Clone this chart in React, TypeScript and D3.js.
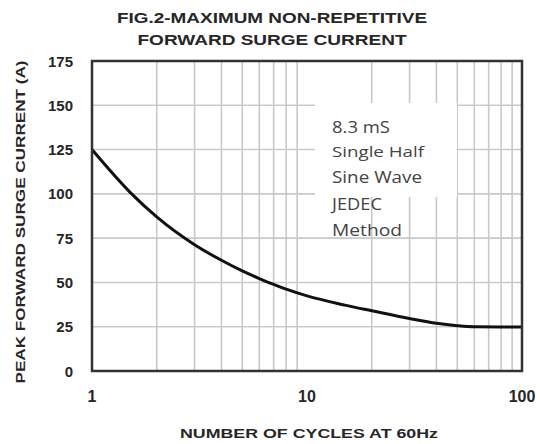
import React from "react";
import * as d3 from "d3";

const titleLines = ["FIG.2-MAXIMUM NON-REPETITIVE", "FORWARD SURGE CURRENT"];
const xTitle = "NUMBER OF CYCLES AT 60Hz";
const yTitle = "PEAK FORWARD SURGE CURRENT (A)";
const xTicks = [1, 10, 100];
const xGrid = [2, 3, 4, 5, 6, 7, 8, 9, 20, 30, 40, 50, 60, 70, 80, 90];
const yTicks = [0, 25, 50, 75, 100, 125, 150, 175];
const cycles = [1, 1.5, 2, 3, 4, 5, 6, 7, 8, 10, 15, 20, 30, 40, 50, 60, 80, 100];
const current = [125, 101, 87, 71.3, 62.5, 56.5, 52.2, 48.9, 46.2, 42.4, 37.2, 34, 29.6, 26.9, 25.6, 25, 24.9, 24.9];
const noteLines = ["8.3 mS", "Single Half", "Sine Wave", "JEDEC", "Method"];
const noteWidths = [58, 92, 90, 50, 70];

export default function App() {
  const W = 540, H = 444;
  const left = 92, right = 522, top = 61, bottom = 371;
  const x = d3.scaleLog().domain([1, 100]).range([left, right]);
  const y = d3.scaleLinear().domain([0, 175]).range([bottom, top]);
  const pts: [number, number][] = cycles.map((c, i) => [c, current[i]]);
  const line = d3
    .line<[number, number]>()
    .x((d) => x(d[0]))
    .y((d) => y(d[1]))
    .curve(d3.curveMonotoneX);
  const txt = "#262626";
  const grid = "#c9c9c9";
  return (
    <svg
      width={W}
      height={H}
      style={{ position: "absolute", left: 0, top: 0, background: "#fff" }}
      fontFamily="'Liberation Sans', Arial, sans-serif"
    >
      <rect x={0} y={0} width={W} height={H} fill="#fff" />
      <text x={272} y={23} textAnchor="middle" fontWeight="bold" fontSize={15} fill={txt} textLength={310} lengthAdjust="spacingAndGlyphs">
        {titleLines[0]}
      </text>
      <text x={272} y={45} textAnchor="middle" fontWeight="bold" fontSize={15} fill={txt} textLength={269} lengthAdjust="spacingAndGlyphs">
        {titleLines[1]}
      </text>
      {xGrid.map((v) => (
        <line key={"vx" + v} x1={x(v)} x2={x(v)} y1={top} y2={bottom} stroke={grid} strokeWidth={1.6} />
      ))}
      {yTicks.slice(1, -1).map((v) => (
        <line key={"hy" + v} x1={left} x2={right} y1={y(v)} y2={y(v)} stroke={grid} strokeWidth={1.6} />
      ))}
      <rect x={315} y={103} width={142} height={94} fill="#fff" />
      {noteLines.map((t, i) => (
        <text
          key={t}
          x={332}
          y={[133, 157, 183, 210, 236][i]}
          fontFamily="'Open Sans', sans-serif"
          fontSize={i === 1 ? 15 : 17}
          fill="#444"
          textLength={noteWidths[i]}
          lengthAdjust="spacingAndGlyphs"
        >
          {t}
        </text>
      ))}
      <path d={line(pts) || ""} fill="none" stroke="#111" strokeWidth={3} strokeLinejoin="round" />
      <rect x={left} y={top} width={right - left} height={bottom - top} fill="none" stroke="#333" strokeWidth={2.5} />
      {yTicks.map((v) => (
        <text key={"yt" + v} x={73} y={y(v) + 5.5} textAnchor="end" fontWeight="bold" fontSize={15} fill={txt}>
          {v}
        </text>
      ))}
      {xTicks.map((v) => (
        <text key={"xt" + v} x={x(v)} y={402} textAnchor="middle" fontWeight="bold" fontSize={16} fill={txt}>
          {v}
        </text>
      ))}
      <text x={309} y={438} textAnchor="middle" fontWeight="bold" fontSize={13} fill={txt} textLength={258} lengthAdjust="spacingAndGlyphs">
        {xTitle}
      </text>
      <text
        transform={`translate(25, 222) rotate(-90)`}
        textAnchor="middle"
        fontWeight="bold"
        fontSize={13}
        fill={txt}
        textLength={323}
        lengthAdjust="spacingAndGlyphs"
      >
        {yTitle}
      </text>
    </svg>
  );
}
